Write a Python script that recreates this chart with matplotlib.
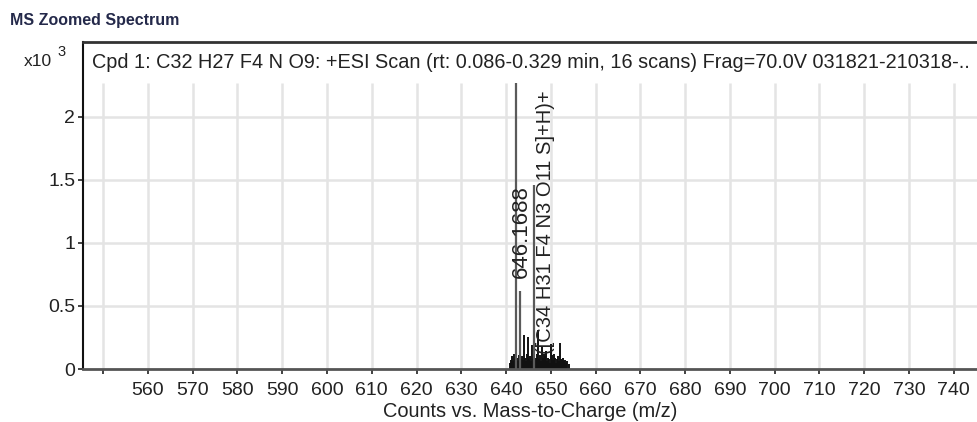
import matplotlib
matplotlib.use("Agg")
import matplotlib.pyplot as plt

plt.rcParams['font.family'] = ['Liberation Sans', 'DejaVu Sans']

# ---- data (intensity in units of 10^3 counts) ----
major_mz = [642.17, 643.17, 646.17]
major_int = [2.27, 0.62, 1.46]

minor_mz = [640.9, 641.1, 641.3, 641.5, 641.7, 641.9, 642.4, 642.6, 642.8, 643.4,
            643.6, 643.8, 644.0, 644.2, 644.4, 644.6, 644.8, 645.0, 645.2, 645.4,
            645.6, 645.8, 646.0, 646.4, 646.6, 646.8, 647.0, 647.2, 647.4, 647.6,
            647.8, 648.0, 648.2, 648.4, 648.6, 648.8, 649.0, 649.2, 649.4, 649.6,
            649.8, 650.0, 650.2, 650.4, 650.6, 650.8, 651.0, 651.2, 651.4, 651.6,
            651.8, 652.0, 652.2, 652.4, 652.6, 652.8, 653.0, 653.2, 653.4, 653.7,
            654.0]
minor_int = [0.05, 0.07, 0.10, 0.06, 0.12, 0.08, 0.09, 0.06, 0.11, 0.08,
             0.10, 0.07, 0.27, 0.09, 0.06, 0.12, 0.08, 0.25, 0.07, 0.10,
             0.06, 0.19, 0.08, 0.06, 0.09, 0.07, 0.12, 0.31, 0.08, 0.11,
             0.06, 0.18, 0.09, 0.12, 0.07, 0.10, 0.14, 0.06, 0.09, 0.08,
             0.05, 0.20, 0.11, 0.07, 0.12, 0.06, 0.09, 0.05, 0.08, 0.10,
             0.06, 0.21, 0.08, 0.07, 0.05, 0.09, 0.06, 0.07, 0.05, 0.06,
             0.04]

x_ticks = [550, 560, 570, 580, 590, 600, 610, 620, 630, 640, 650, 660, 670, 680,
           690, 700, 710, 720, 730, 740]
x_tick_labels = [''] + [str(v) for v in x_ticks[1:]]
y_ticks = [0, 0.5, 1, 1.5, 2]
y_tick_labels = ['0', '0.5', '1', '1.5', '2']

peak_label = '646.1688'
formula_label = '([C34 H31 F4 N3 O11 S]+H)+'
scan_title = ('Cpd 1: C32 H27 F4 N O9: +ESI Scan (rt: 0.086-0.329 min, 16 scans) '
              'Frag=70.0V 031821-210318-..')
window_title = 'MS Zoomed Spectrum'
x_label = 'Counts vs. Mass-to-Charge (m/z)'

# ---- figure ----
W, H = 977, 422
fig = plt.figure(figsize=(W / 100, H / 100), dpi=100)
ax = fig.add_axes([83 / W, (H - 369) / H, 1 - 83 / W, (369 - 42) / H])

xmin, xmax = 545.5, 745.2
ymax_plot = 2.27
ax.set_xlim(xmin, xmax)
ax.set_ylim(0, 2.595)

FS = 14
txt_c = '#222222'

# gridlines
grid_c = '#e4e4e4'
ax.vlines(x_ticks, 0, ymax_plot, colors=grid_c, lw=1.8, zorder=0)
for yv in y_ticks[1:]:
    ax.axhline(yv, color=grid_c, lw=1.8, zorder=0)

# peaks
ax.vlines(minor_mz, 0, minor_int, colors='#111111', lw=1.4, zorder=2)
ax.vlines(major_mz, 0, major_int, colors='#5a5a5a', lw=1.6, zorder=3)

# annotations
ax.text(646.17 - 0.5, 1.46, peak_label, rotation=90, ha='right', va='top',
        fontsize=16, color=txt_c, zorder=4)
ax.text(646.17 + 0.6, 2.21, formula_label, rotation=90, ha='left', va='top',
        fontsize=14.5, color=txt_c, zorder=4)

ax.text(9 / 894, 1 - 21 / 327, scan_title, transform=ax.transAxes,
        ha='left', va='center', fontsize=14.35, color=txt_c)

# spines
ax.spines['right'].set_visible(False)
ax.spines['left'].set_color('#111111')
ax.spines['left'].set_linewidth(1.5)
ax.spines['top'].set_color('#333333')
ax.spines['top'].set_linewidth(2)
ax.spines['bottom'].set_color('#555555')
ax.spines['bottom'].set_linewidth(2)

ax.set_xticks(x_ticks)
ax.set_xticklabels(x_tick_labels)
ax.set_yticks(y_ticks)
ax.set_yticklabels(y_tick_labels)
ax.tick_params(axis='both', labelsize=FS, colors=txt_c, length=3.6, width=1.2,
               direction='out', pad=2)
ax.tick_params(axis='x', pad=5.5)
ax.set_xlabel(x_label, fontsize=14.4, color=txt_c, labelpad=2.5)

# figure texts
fig.text(10 / W, 1 - 21 / H, window_title, ha='left', va='center',
         fontsize=11.5, color='#24294a', fontweight='bold')
fig.text(52 / W, 1 - 61 / H, 'x10', ha='right', va='center', fontsize=12.5,
         color=txt_c)
fig.text(57 / W, 1 - 52 / H, '3', ha='left', va='center', fontsize=10.5,
         color=txt_c)

fig.savefig('out.png', dpi=100)
